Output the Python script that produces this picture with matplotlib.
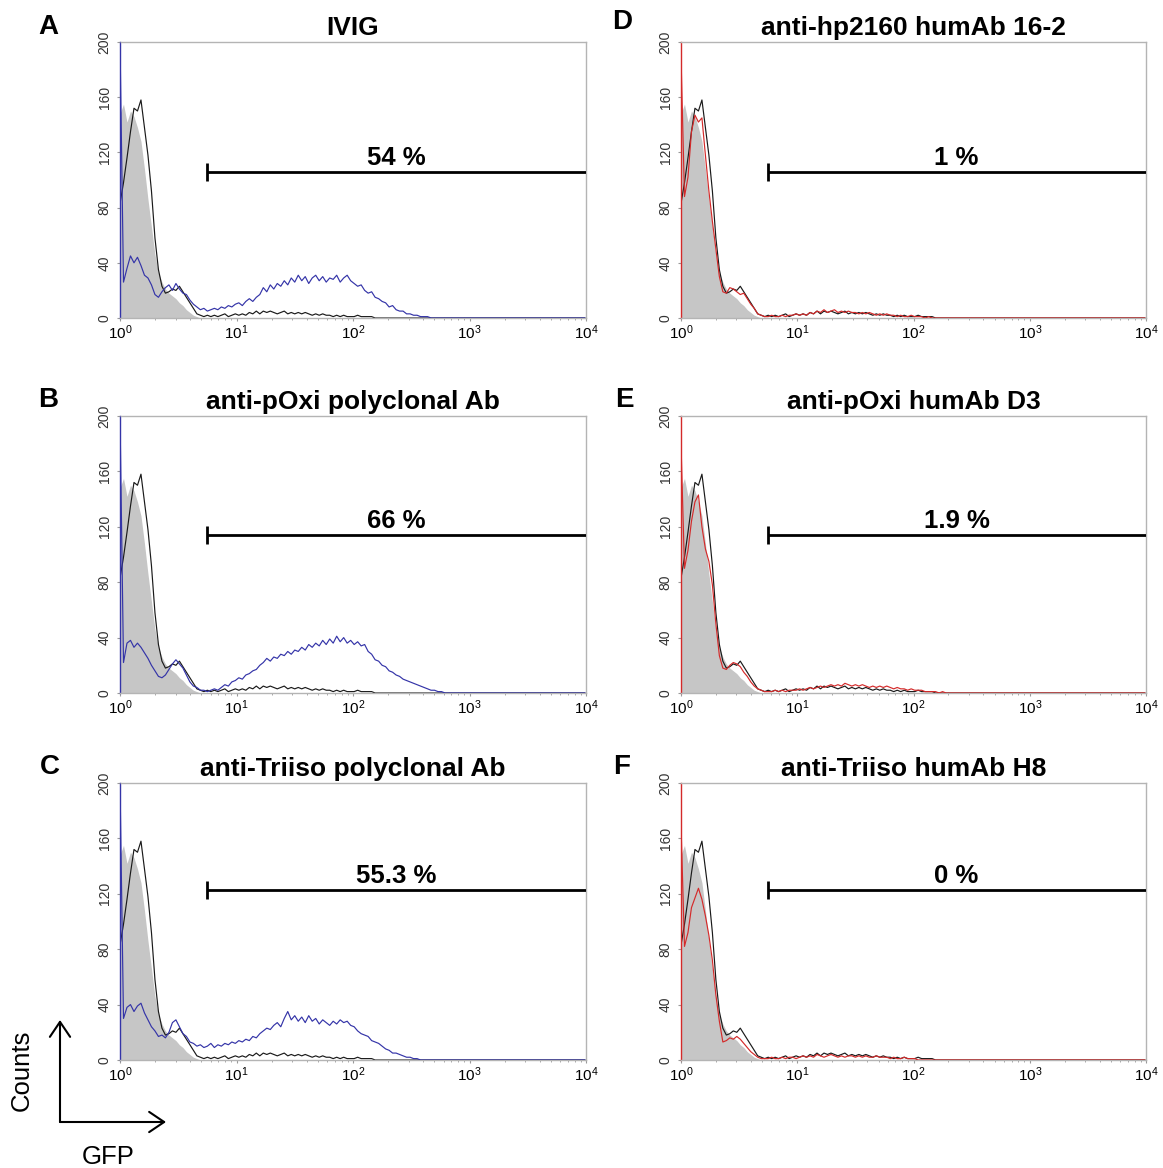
import matplotlib
matplotlib.use("Agg")
import matplotlib.pyplot as plt
import numpy as np
from matplotlib.patches import FancyArrowPatch

plt.rcParams['font.family'] = ['Liberation Sans', 'DejaVu Sans']

# histogram channels: log-spaced, 0.03 decade per channel, 10^0 .. 10^4
CH_STEP = 0.03
N_CH = 134

# shared controls (grey = unstained, black = secondary only)
grey_ctrl = [148, 155, 142, 150, 146, 138, 128, 108, 86, 66, 46, 33, 26, 21, 18,
             16, 14, 11, 9, 6, 4, 2, 1, 0]

black_ctrl = [83, 98, 116, 135, 152, 150, 158, 138, 118, 92,
              58, 35, 23, 18, 19, 21, 20, 23, 19, 15,
              11, 7, 3, 2, 1, 2, 1, 2, 1, 2,
              3, 1, 2, 3, 2, 3, 2, 4, 3, 5,
              3, 5, 4, 5, 4, 3, 4, 5, 3, 4,
              3, 4, 3, 4, 3, 2, 3, 2, 3, 2,
              2, 1, 2, 1, 2, 1, 1, 1, 2, 1,
              1, 1, 1, 0]

# test samples
ivig = [200, 26, 36, 45, 40, 44, 38, 31, 29, 24,
        17, 15, 19, 22, 24, 20, 25, 21, 18, 17,
        13, 10, 8, 6, 7, 5, 6, 7, 6, 8,
        7, 9, 8, 10, 11, 9, 12, 14, 12, 15,
        17, 22, 19, 24, 21, 25, 23, 27, 24, 29,
        26, 31, 27, 30, 25, 29, 31, 27, 30, 26,
        29, 28, 31, 26, 29, 31, 27, 25, 23, 24,
        20, 18, 19, 15, 14, 12, 11, 8, 9, 6,
        5, 5, 3, 3, 2, 2, 1, 1, 1, 0]

poxi_poly = [200, 22, 36, 38, 33, 36, 33, 29, 25, 20,
             16, 12, 11, 13, 17, 21, 24, 21, 18, 13,
             8, 5, 4, 2, 2, 1, 2, 3, 2, 4,
             6, 5, 8, 9, 11, 10, 13, 14, 16, 17,
             20, 22, 25, 23, 26, 25, 28, 27, 30, 28,
             31, 30, 33, 31, 35, 33, 36, 34, 38, 35,
             39, 36, 41, 37, 40, 36, 38, 35, 37, 34,
             35, 30, 28, 24, 23, 20, 19, 16, 15, 13,
             12, 10, 9, 8, 7, 6, 5, 4, 3, 2,
             2, 1, 1, 0]

triiso_poly = [200, 30, 38, 40, 35, 39, 41, 34, 29, 24,
               21, 17, 18, 16, 20, 27, 29, 24, 19, 17,
               13, 12, 10, 11, 9, 10, 12, 9, 11, 10,
               12, 11, 13, 12, 14, 13, 15, 14, 17, 16,
               19, 21, 23, 22, 25, 27, 24, 30, 35, 29,
               32, 28, 31, 27, 32, 28, 30, 26, 29, 27,
               25, 28, 26, 29, 27, 28, 25, 24, 21, 19,
               18, 17, 14, 13, 12, 10, 8, 7, 5, 5,
               4, 3, 2, 2, 1, 1, 0]

hp2160_16_2 = [190, 88, 102, 135, 147, 142, 145, 118, 92, 70,
               50, 30, 19, 18, 22, 21, 19, 17, 18, 14,
               10, 7, 3, 2, 1, 1, 2, 1, 1, 2,
               1, 2, 2, 3, 2, 3, 2, 4, 3, 5,
               4, 6, 4, 5, 6, 4, 5, 4, 5, 4,
               4, 3, 4, 3, 4, 3, 2, 3, 2, 3,
               2, 2, 1, 2, 1, 1, 2, 1, 1, 1,
               0, 1, 0, 0]

poxi_d3 = [180, 90, 103, 124, 138, 143, 120, 104, 95, 78,
           50, 27, 18, 17, 20, 22, 21, 19, 15, 12,
           8, 5, 3, 2, 1, 1, 1, 2, 1, 2,
           1, 2, 2, 2, 3, 2, 3, 4, 3, 4,
           5, 4, 5, 6, 5, 6, 5, 7, 6, 5,
           6, 5, 6, 5, 4, 5, 4, 5, 4, 5,
           4, 3, 4, 3, 3, 2, 3, 2, 2, 2,
           1, 1, 1, 1, 0, 1, 0]

triiso_h8 = [170, 82, 92, 110, 117, 124, 116, 104, 90, 72,
             47, 28, 13, 14, 16, 15, 17, 15, 12, 9,
             6, 4, 2, 1, 1, 1, 2, 1, 1, 2,
             1, 2, 2, 1, 2, 3, 2, 3, 2, 4,
             3, 2, 3, 4, 3, 2, 3, 2, 3, 3,
             2, 3, 2, 3, 2, 2, 3, 2, 2, 2,
             1, 2, 1, 1, 2, 1, 1, 1, 0, 0]

letters = ["A", "B", "C", "D", "E", "F"]
titles = ["IVIG", "anti-pOxi polyclonal Ab", "anti-Triiso polyclonal Ab",
          "anti-hp2160 humAb 16-2", "anti-pOxi humAb D3", "anti-Triiso humAb H8"]
samples = [ivig, poxi_poly, triiso_poly, hp2160_16_2, poxi_d3, triiso_h8]
pct_labels = ["54 %", "66 %", "55.3 %", "1 %", "1.9 %", "0 %"]
gate_level = [106, 114, 123, 106, 114, 123]
gate_start = 5.6
pct_pos = 10 ** 2.37

BLUE = '#3434a8'
RED = '#d42a2a'
colors = [BLUE, BLUE, BLUE, RED, RED, RED]

W, H = 1163.0, 1168.0
fig = plt.figure(figsize=(W / 100, H / 100), dpi=100)


def px_axes(left, top, right, bottom):
    return fig.add_axes([left / W, 1 - bottom / H, (right - left) / W, (bottom - top) / H])


def channels(counts):
    c = np.pad(np.asarray(counts, float), (0, N_CH - len(counts)))
    return 10 ** (np.arange(N_CH) * CH_STEP), c


def draw_panel(ax, letter, title, test, color, gate_y, pct):
    xg, yg = channels(grey_ctrl)
    ax.fill_between(xg, yg, 0, color='#c6c6c6', lw=0, zorder=1)
    xb, yb = channels(black_ctrl)
    ax.plot(xb, yb, color='#1a1a1a', lw=0.85, zorder=2)
    xt, yt = channels(test)
    ax.plot(xt, yt, color=color, lw=0.85, zorder=3)

    ax.set_xscale('log')
    ax.set_xlim(1, 1e4)
    ax.set_ylim(0, 200)
    for s in ax.spines.values():
        s.set_color('#b4b4b4')
        s.set_linewidth(1)
    ax.spines['left'].set_color(color)

    ax.set_yticks([0, 40, 80, 120, 160, 200])
    ax.set_yticklabels(['0', '40', '80', '120', '160', '200'], rotation=90,
                       va='center', fontsize=10, color='#333333')
    ax.tick_params(axis='y', length=2, pad=4, color='#999999')
    ax.tick_params(axis='x', which='major', length=2, labelsize=11, pad=2, color='#999999')
    ax.tick_params(axis='x', which='minor', length=1.5, color='#999999')

    # gate marker
    ax.plot([gate_start, 1e4], [gate_y, gate_y], color='k', lw=2, solid_capstyle='butt', zorder=4)
    ax.plot([gate_start], [gate_y], marker='|', ms=13, mew=2, color='k', zorder=4)
    ax.text(pct_pos, gate_y + 1.5, pct, ha='center', va='bottom',
            fontsize=18.5, fontweight='bold')

    ax.set_title(title, fontsize=19, fontweight='bold', pad=5)


cols = [(120, 586), (681, 1146)]
rows = [(42, 318), (416, 693), (783, 1060)]
letter_pos = [(48, 27), (48, 400), (50, 767), (622, 22), (624, 400), (622, 767)]

for i in range(6):
    c, r = divmod(i, 3)
    ax = px_axes(cols[c][0], rows[r][0], cols[c][1], rows[r][1])
    draw_panel(ax, letters[i], titles[i], samples[i], colors[i], gate_level[i], pct_labels[i])
    lx, ly = letter_pos[i]
    fig.text(lx / W, 1 - ly / H, letters[i], ha='center', va='center',
             fontsize=20, fontweight='bold')

# axis legend arrows bottom left
corner = (60 / W, 1 - 1122 / H)
for tip in [(60 / W, 1 - 1020 / H), (166 / W, 1 - 1122 / H)]:
    fig.add_artist(FancyArrowPatch(corner, tip, transform=fig.transFigure,
                                   arrowstyle='->,head_length=0.4,head_width=0.27',
                                   mutation_scale=27, lw=1.5, color='k',
                                   shrinkA=0, shrinkB=0))
fig.text(22 / W, 1 - 1070 / H, "Counts", rotation=90, ha='center', va='center', fontsize=18.5)
fig.text(108 / W, 1 - 1157 / H, "GFP", ha='center', va='center', fontsize=18.5)

fig.savefig("out.png", dpi=100)
